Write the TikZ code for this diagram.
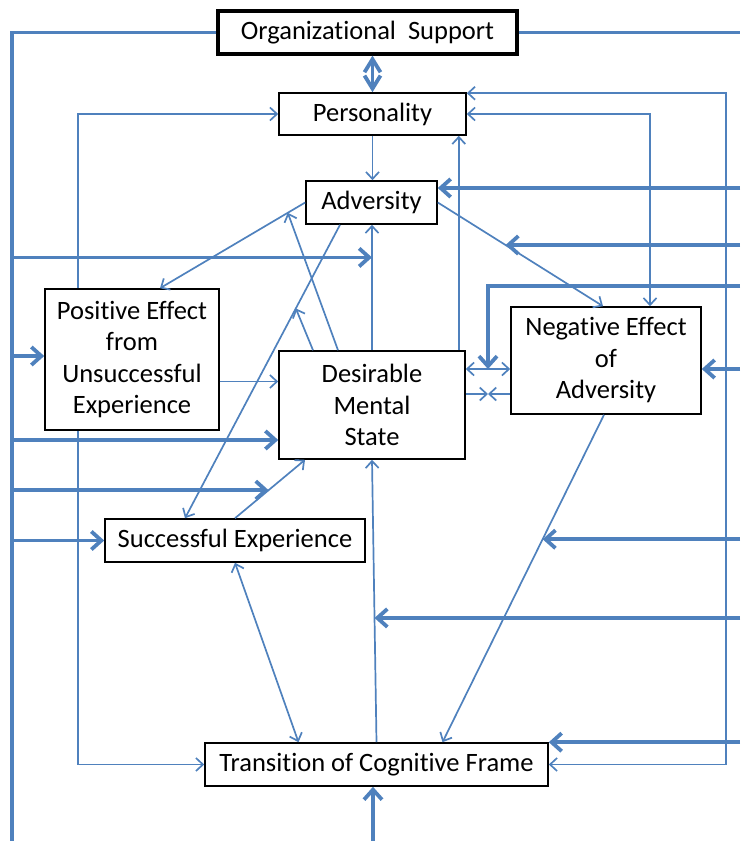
\documentclass[tikz,border=0pt]{standalone}
\usepackage{fontspec}
\setmainfont{Carlito}[Ligatures=NoCommon]
\usetikzlibrary{arrows.meta,calc}
\definecolor{lnblue}{RGB}{79,129,189}

\begin{document}
\begin{tikzpicture}[x=1pt,y=-1pt,
  box/.style={draw,line width=1.6pt,align=center,inner sep=2pt,
    font=\fontsize{26.5}{31.5}\selectfont},
  tp/.tip={Straight Barb[length=7pt,width=13pt]},
  tk/.tip={Straight Barb[length=10pt,width=18pt]},
  tb/.tip={Straight Barb[length=13pt,width=16pt]},
  lnk/.style={draw=lnblue,line width=1.7pt},
  spt/.style={draw=lnblue,line width=3.8pt}]
  \useasboundingbox (0,0) rectangle (740,841);
  \node[box,line width=3.2pt,minimum width=299pt,minimum height=43pt] (org) at (367.5,32.5) {Organizational\ \ Support};
  \node[box,minimum width=187pt,minimum height=42pt] (pers) at (372.5,114) {Personality};
  \node[box,minimum width=131pt,minimum height=43pt] (adv) at (371.5,202.5) {Adversity};
  \node[box,minimum width=174pt,minimum height=141pt] (pos) at (132,359.5) {Positive Effect\\from\\Unsuccessful\\Experience};
  \node[box,minimum width=186pt,minimum height=108pt] (dms) at (372,405) {Desirable\\Mental\\State};
  \node[box,minimum width=190pt,minimum height=107pt] (neg) at (606,360.5) {Negative Effect\\of\\Adversity};
  \node[box,minimum width=260pt,minimum height=43pt] (succ) at (235,540.5) {Successful Experience};
  \node[box,minimum width=343pt,minimum height=43pt] (trans) at (376.5,764.5) {Transition of Cognitive Frame};
  \coordinate (lft) at (12,841);
  \coordinate (rgt) at (740,841);
  \coordinate (rt) at (726,400);
  % thin links
  \draw[lnk,-tp] ([xshift=-54pt]pos.north) |- (pers.west);
  \draw[lnk,-tp] ([xshift=-54pt]pos.south) |- (trans.west);
  \draw[lnk,-tp] (pers.south) -- (pers.south |- adv.north);
  \draw[lnk,tp-tp] (pers.east) -| ([xshift=44pt]neg.north);
  \draw[lnk,tp-tp] ([yshift=-1pt]pers.north east) -| (rt) |- (trans.east);
  \draw[lnk,-tp] ([xshift=-7pt]dms.north east) -- ([xshift=-7pt]dms.north east |- pers.south);
  \draw[lnk,-tp] (adv.west) -- coordinate[pos=.12] (m1) ([xshift=28pt]pos.north);
  \draw[lnk,-tp] ([xshift=-31.5pt]adv.south) -- coordinate[pos=.285] (m2) ([xshift=-50pt]succ.north);
  \draw[lnk,-tp] ([xshift=-34pt]dms.north) -- (m1);
  \draw[lnk,-tp] ([xshift=-59pt]dms.north) -- (m2);
  \draw[lnk,-tp] (dms.north) -- coordinate[pos=.74] (k1) (dms.north |- adv.south);
  \draw[lnk,-tp] ([yshift=-22pt]pos.east) -- ([yshift=-22pt]pos.east -| dms.west);
  \draw[lnk,-tp] (succ.north) -- coordinate[pos=.48] (k2) ([xshift=-67pt]dms.south);
  \draw[lnk,tp-tp] (succ.south) -- ([xshift=-78pt]trans.north);
  \draw[lnk,-tp] (trans.north) -- coordinate[pos=.44] (k3) (dms.south);
  \draw[lnk,-tp] ([xshift=-2pt]neg.south) -- coordinate[pos=.38] (k4) ([xshift=66pt]trans.north);
  \draw[lnk,-tp] (adv.east) -- coordinate[pos=.41] (k5) ([xshift=-3pt]neg.north);
  \draw[lnk,tp-tp] ([yshift=36pt]dms.east) -- coordinate (dn) ([yshift=36pt]dms.east -| neg.west);
  \coordinate (xm) at ($([yshift=11pt]dms.east)!.5!([yshift=11pt]dms.east -| neg.west)$);
  \draw[lnk,-tp] ([yshift=11pt]dms.east) -- (xm);
  \draw[lnk,-tp] ([yshift=11pt]dms.east -| neg.west) -- (xm);
  % organizational support
  \draw[spt] (org.west) -| (lft);
  \draw[spt] (org.east) -- (org.east -| rgt);
  \draw[spt,tb-tb] (pers.north |- org.south) -- (pers.north);
  \draw[spt,-tk] (lft |- k1) -- (k1);
  \draw[spt,-tk] ([yshift=3.5pt]pos.west -| lft) -- ([yshift=3.5pt]pos.west);
  \draw[spt,-tk] ([yshift=-35pt]dms.west -| lft) -- ([yshift=-35pt]dms.west);
  \draw[spt,-tk] (lft |- k2) -- (k2);
  \draw[spt,-tk] (lft |- succ.west) -- (succ.west);
  \draw[spt,-tk] ([yshift=14.5pt]adv.east -| rgt) -- ([yshift=14.5pt]adv.east);
  \draw[spt,-tk] (rgt |- k5) -- (k5);
  \draw[spt,-tk] ([yshift=20pt]neg.north -| rgt) -| (dn);
  \draw[spt,-tk] ([yshift=-8.5pt]neg.east -| rgt) -- ([yshift=-8.5pt]neg.east);
  \draw[spt,-tk] (rgt |- k4) -- (k4);
  \draw[spt,-tk] (rgt |- k3) -- (k3);
  \draw[spt,-tk] (trans.north east -| rgt) -- (trans.north east);
  \draw[spt,-tk] ([xshift=-3.5pt]trans.south |- rgt) -- ([xshift=-3.5pt]trans.south);
\end{tikzpicture}
\end{document}
